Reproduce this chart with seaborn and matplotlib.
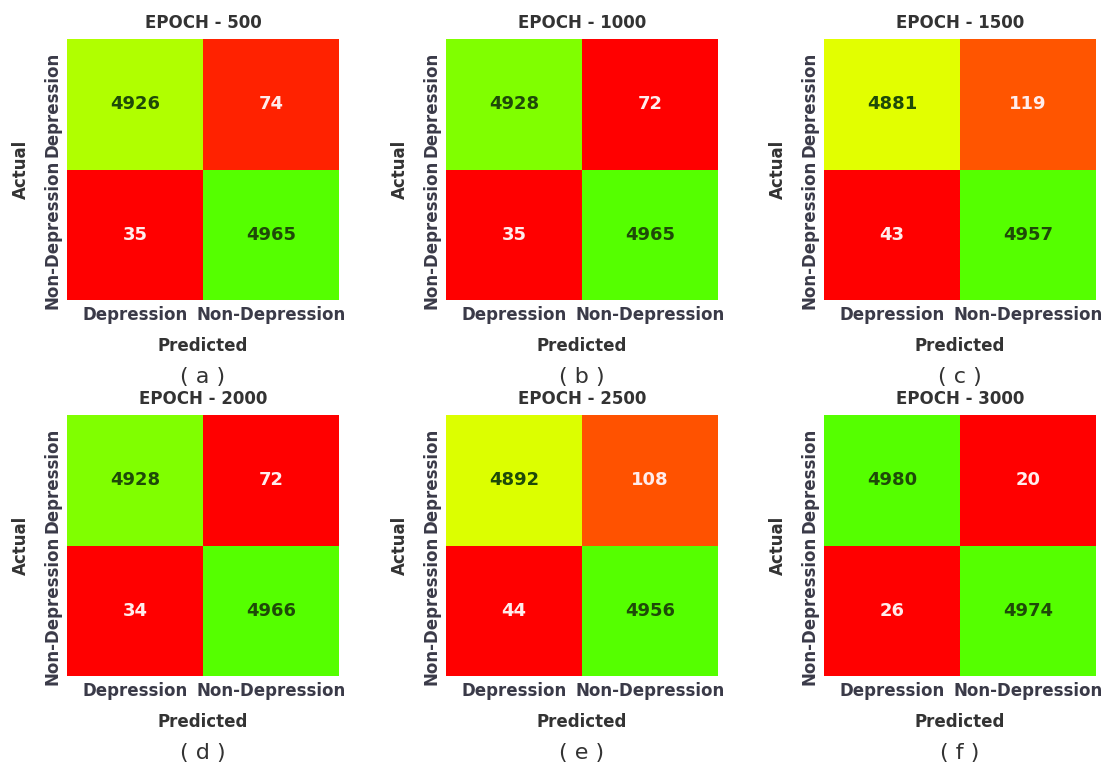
import numpy as np
import pandas as pd
import matplotlib
matplotlib.use("Agg")
import matplotlib.pyplot as plt
import seaborn as sns
from matplotlib.colors import LinearSegmentedColormap

# confusion matrices (rows = actual, cols = predicted)
classes = ["Depression", "Non-Depression"]
epochs = [500, 1000, 1500, 2000, 2500, 3000]
captions = ["a", "b", "c", "d", "e", "f"]
cm_500 = [[4926, 74], [35, 4965]]
cm_1000 = [[4928, 72], [35, 4965]]
cm_1500 = [[4881, 119], [43, 4957]]
cm_2000 = [[4928, 72], [34, 4966]]
cm_2500 = [[4892, 108], [44, 4956]]
cm_3000 = [[4980, 20], [26, 4974]]
matrices = [cm_500, cm_1000, cm_1500, cm_2000, cm_2500, cm_3000]

sns.set_style("white")
plt.rcParams["font.family"] = ["DejaVu Sans"]

# red -> orange -> yellow -> green scale over counts 0..5000
total = 5000
stops = [(0, "#ff0000"), (73, "#ff0000"), (74, "#ff2200"), (100, "#ff5000"),
         (119, "#ff5500"), (4881, "#e2ff00"), (4900, "#d8ff00"), (4926, "#b0ff00"),
         (4928, "#80ff00"), (4956, "#55ff00"), (5000, "#55ff00")]
cmap = LinearSegmentedColormap.from_list("ryg", [(v / total, c) for v, c in stops], N=total + 1)

fig = plt.figure(figsize=(11.07, 7.64), dpi=100)
W, H = 1107, 764
lefts = [67, 446, 824]
tops = [39, 415]
aw, ah = 272, 261

tick_col = "#3a3a48"
for i, (mat, ep, cap) in enumerate(zip(matrices, epochs, captions)):
    r, c = divmod(i, 3)
    ax = fig.add_axes([lefts[c] / W, 1 - (tops[r] + ah) / H, aw / W, ah / H])
    df = pd.DataFrame(mat, index=classes, columns=classes)
    sns.heatmap(df, ax=ax, annot=True, fmt="d", cmap=cmap, vmin=0, vmax=total,
                cbar=False, annot_kws={"fontsize": 13, "fontweight": "bold"})
    for t in ax.texts:
        v = int(t.get_text())
        t.set_color("#ffecec" if v < total / 2 else "#1e4a08")
    ax.set_title(f"EPOCH - {ep}", fontsize=12, fontweight="bold", color="#333333", pad=8)
    ax.set_xlabel("Predicted", fontsize=12, fontweight="bold", color="#333333", labelpad=10)
    ax.set_ylabel("Actual", fontsize=12, fontweight="bold", color="#333333", labelpad=10)
    ax.set_xticklabels(classes, rotation=0, fontsize=12, fontweight="bold", color=tick_col)
    ax.set_yticklabels(classes, rotation=90, va="center", fontsize=12, fontweight="bold", color=tick_col)
    ax.tick_params(length=0, pad=4)
    ax.text(0.5, -77 / ah, f"( {cap} )", transform=ax.transAxes, ha="center", va="center",
            fontsize=16, color="#333333")

fig.savefig("out.png", dpi=100)
